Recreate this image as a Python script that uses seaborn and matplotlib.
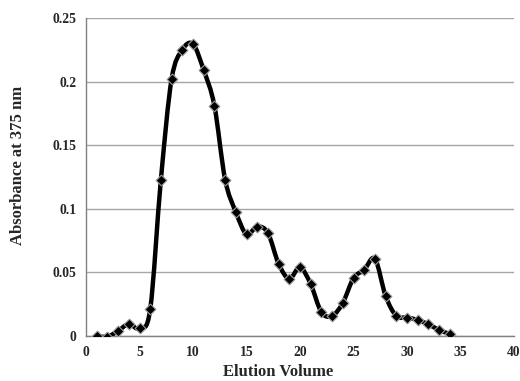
import numpy as np
import pandas as pd
import matplotlib
matplotlib.use("Agg")
import matplotlib.pyplot as plt
import seaborn as sns
from matplotlib.path import Path
from matplotlib.patches import PathPatch

elution_volume = [1, 2, 3, 4, 5, 6, 7, 8, 9, 10, 11, 12, 13, 14, 15, 16, 17,
                  18, 19, 20, 21, 22, 23, 24, 25, 26, 27, 28, 29, 30, 31, 32, 33, 34]
absorbance = [0.000, -0.0005, 0.004, 0.0095, 0.006, 0.021, 0.123, 0.202, 0.225, 0.2295,
              0.209, 0.181, 0.123, 0.0975, 0.080, 0.086, 0.081, 0.0568, 0.045, 0.054,
              0.0408, 0.0187, 0.0158, 0.026, 0.0455, 0.052, 0.0607, 0.0315, 0.0158,
              0.0145, 0.0126, 0.0092, 0.0047, 0.0016]
x_ticks = [0, 5, 10, 15, 20, 25, 30, 35, 40]
y_ticks = [0, 0.05, 0.1, 0.15, 0.2, 0.25]
y_tick_labels = ["0", "0.05", "0.1", "0.15", "0.2", "0.25"]

df = pd.DataFrame({"Elution Volume": elution_volume, "Absorbance": absorbance})

sns.set_theme(style="white")
plt.rcParams["font.family"] = ["Liberation Serif", "DejaVu Serif"]

fig = plt.figure(figsize=(5.2, 3.81), dpi=100)
ax = fig.add_axes([86 / 520, 45 / 381, 428 / 520, 318 / 381])

# smoothed line (Catmull-Rom style Bezier through the data points)
xs = np.array(elution_volume, dtype=float)
ys = np.array(absorbance, dtype=float)
verts = [(xs[0], ys[0])]
codes = [Path.MOVETO]
n = len(xs)
for i in range(n - 1):
    p0 = np.array([xs[max(i - 1, 0)], ys[max(i - 1, 0)]])
    p1 = np.array([xs[i], ys[i]])
    p2 = np.array([xs[i + 1], ys[i + 1]])
    p3 = np.array([xs[min(i + 2, n - 1)], ys[min(i + 2, n - 1)]])
    c1 = p1 + (p2 - p0) / 6.0
    c2 = p2 - (p3 - p1) / 6.0
    verts += [tuple(c1), tuple(c2), tuple(p2)]
    codes += [Path.CURVE4, Path.CURVE4, Path.CURVE4]
ax.add_patch(PathPatch(Path(verts, codes), facecolor="none", edgecolor="black",
                       lw=3.2, zorder=3, capstyle="round", joinstyle="round"))

sns.scatterplot(data=df, x="Elution Volume", y="Absorbance", ax=ax, marker="D",
                s=30, color="black", edgecolor="#9a9a9a", linewidth=0.8, zorder=4)

ax.set_xlim(0, 40)
ax.set_ylim(0, 0.25)
ax.set_xticks(x_ticks)
ax.set_yticks(y_ticks)
ax.set_yticklabels(y_tick_labels)
ax.yaxis.grid(True, color="#a6a6a6", lw=1.0)
ax.xaxis.grid(False)
ax.set_axisbelow(True)
for s in ["top", "right"]:
    ax.spines[s].set_visible(False)
for s in ["left", "bottom"]:
    ax.spines[s].set_color("#808080")
    ax.spines[s].set_linewidth(1.0)
ax.tick_params(axis="both", which="major", direction="out", length=4, width=1,
               color="#808080", labelsize=9.8, pad=3)
for lab in ax.get_xticklabels() + ax.get_yticklabels():
    lab.set_fontweight("bold")
ax.set_xlabel("Elution Volume", fontsize=12, fontweight="bold")
ax.set_ylabel("Absorbance at 375 nm", fontsize=12, fontweight="bold")
ax.xaxis.set_label_coords((278 - 86) / 428, (336 - 372) / 318)
ax.xaxis.label.set_va("center")
ax.yaxis.set_label_coords((18 - 86) / 428, (336 - 165) / 318)
ax.yaxis.label.set_va("center")
ax.yaxis.label.set_ha("center")

fig.savefig("out.png", dpi=100)
